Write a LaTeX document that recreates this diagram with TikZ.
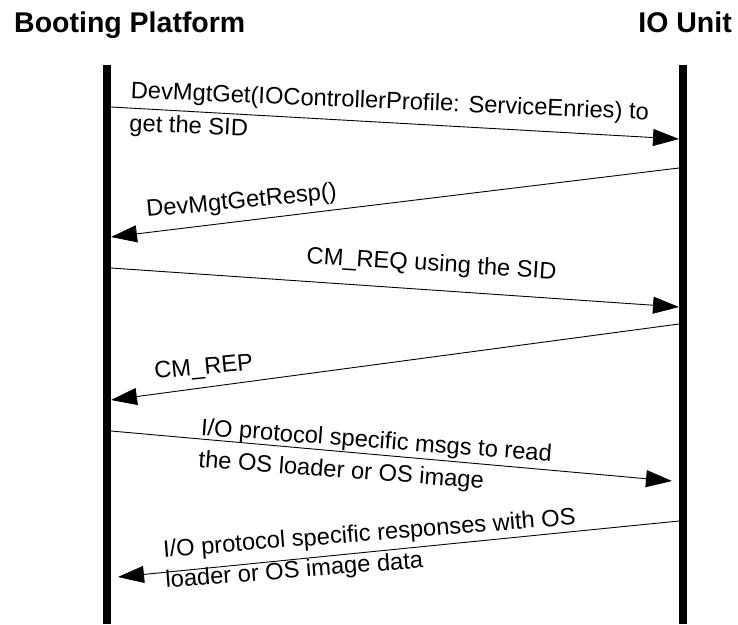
\documentclass[tikz,border=0pt]{standalone}
\usepackage{fontspec}
\setmainfont{Liberation Sans}
\usetikzlibrary{arrows.meta}
\begin{document}
\begin{tikzpicture}[x=1pt,y=1pt,
  title/.style={font=\fontsize{28.5}{34}\selectfont\bfseries, inner sep=0pt},
  lbl/.style={font=\fontsize{23.7}{28}\selectfont, inner sep=0pt, anchor=base west, align=left},
  lifeline/.style={line width=7.5pt},
  msg/.style={line width=0.9pt, -{Triangle[length=26pt,width=17pt]}}]
\useasboundingbox (0,0) rectangle (738,-624);
% titles
\node[title, anchor=base west] (tbp) at (14,-32) {Booting Platform};
\node[title, anchor=base east] (tio) at (732,-32) {IO Unit};
% lifelines
\coordinate (lt) at (107,-65); \coordinate (lb) at (107,-624);
\coordinate (rt) at (683,-65); \coordinate (rb) at (683,-624);
\draw[lifeline] (lt) -- (lb);
\draw[lifeline] (rt) -- (rb);
% message end points
\coordinate (a1s) at (111,-107); \coordinate (a1e) at (679,-139);
\coordinate (a2s) at (679,-168); \coordinate (a2e) at (111,-237);
\coordinate (a3s) at (111,-268); \coordinate (a3e) at (679,-307);
\coordinate (a4s) at (679,-324); \coordinate (a4e) at (111,-400);
\coordinate (a5s) at (111,-431); \coordinate (a5e) at (672,-481);
\coordinate (a6s) at (679,-521); \coordinate (a6e) at (118,-577);
\draw[msg] (a1s) -- (a1e);
\draw[msg] (a2s) -- (a2e);
\draw[msg] (a3s) -- (a3e);
\draw[msg] (a4s) -- (a4e);
\draw[msg] (a5s) -- (a5e);
\draw[msg] (a6s) -- (a6e);
% labels (base anchor = baseline of the last line)
\node[lbl, rotate=-2.4] (l1) at (129,-131) {DevMgtGet(IOControllerProfile: ServiceEnries) to\\[5pt]get the SID};
\node[lbl, rotate=5.4] (l2) at (147,-217) {DevMgtGetResp()};
\node[lbl, rotate=-3.7] (l3) at (306,-263) {CM\_REQ using the SID};
\node[lbl, rotate=5.5] (l4) at (155,-379) {CM\_REP};
\node[lbl, rotate=-4.3] (l5) at (198,-467) {I/O protocol specific msgs to read\\[4pt]the OS loader or OS image};
\node[lbl, rotate=4.5] (l6) at (166,-588) {I/O protocol specific responses with OS\\[3pt]loader or OS image data};
\end{tikzpicture}
\end{document}
